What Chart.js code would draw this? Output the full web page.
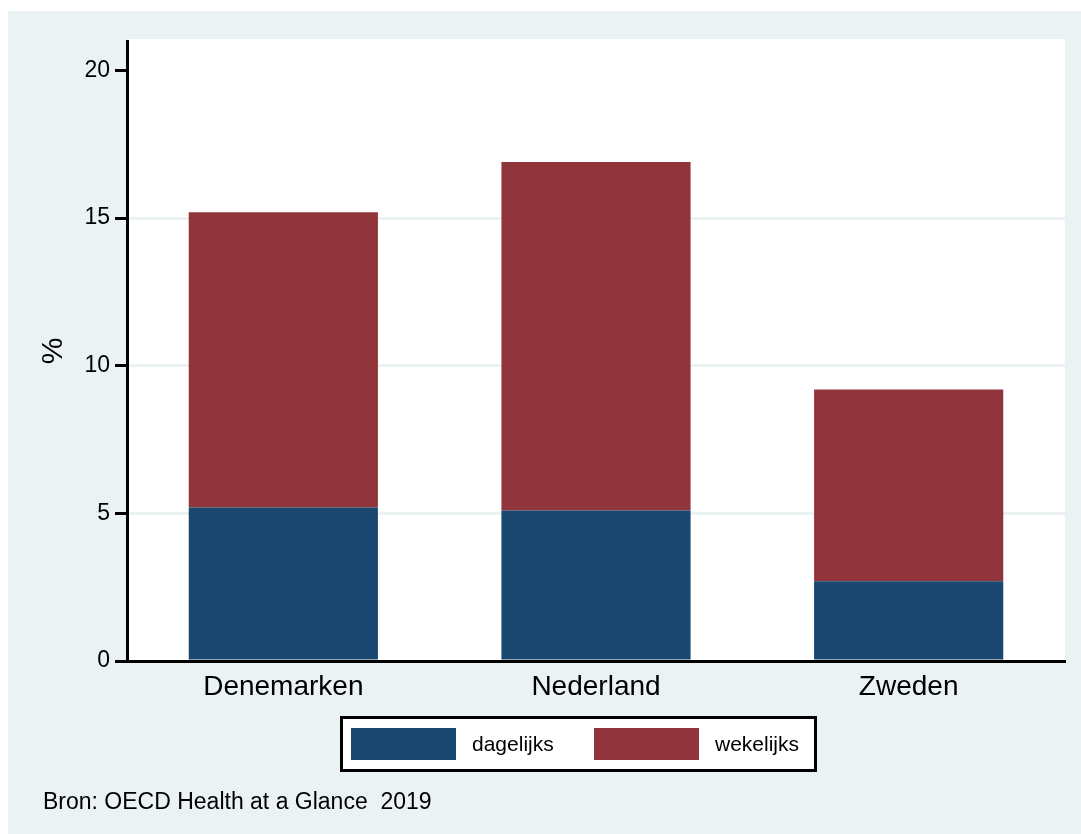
<!DOCTYPE html>
<html>
<head>
<meta charset="utf-8">
<title>Denemarken, Nederland, Zweden</title>
<script src="https://cdn.jsdelivr.net/npm/chart.js@4/dist/chart.umd.min.js"></script>
<style>
  html, body { margin: 0; padding: 0; background: #ffffff; }
  #wrap { position: relative; width: 1081px; height: 834px; }
</style>
</head>
<body>
<div id="wrap"><canvas id="chart" width="1081" height="834"></canvas></div>
<script>
(function () {
  "use strict";

  var categories = ["Denemarken", "Nederland", "Zweden"];
  var seriesNames = ["dagelijks", "wekelijks"];
  var dagelijks = [5.2, 5.1, 2.7];
  var wekelijks = [10.0, 11.8, 6.5];
  var yTicks = [0, 5, 10, 15, 20];
  var yGridTicks = [5, 10, 15];
  var sourceText = "Bron: OECD Health at a Glance  2019";

  var BLUE = "#1a476f";
  var RED = "#90353b";
  var BG = "#eaf2f3";
  var FONT = "'Liberation Sans', Arial, sans-serif";

  var stataFrame = {
    id: "stataFrame",
    beforeDraw: function (chart) {
      var ctx = chart.ctx;
      var a = chart.chartArea;
      ctx.save();
      ctx.fillStyle = BG;
      ctx.fillRect(8, 11, chart.width - 8, chart.height - 11);
      ctx.fillStyle = "#ffffff";
      ctx.fillRect(a.left, 39, a.right - a.left, a.bottom - 39);
      ctx.restore();
    },
    afterDraw: function (chart) {
      var ctx = chart.ctx;
      ctx.save();
      // legend box
      ctx.fillStyle = "#ffffff";
      ctx.fillRect(341, 717, 475, 54);
      ctx.strokeStyle = "#000000";
      ctx.lineWidth = 3;
      ctx.strokeRect(341.5, 717.5, 474, 53);
      var swatchX = [351, 594];
      var textX = [472, 715];
      ctx.font = "21px " + FONT;
      ctx.textBaseline = "middle";
      ctx.textAlign = "left";
      chart.data.datasets.forEach(function (ds, i) {
        ctx.fillStyle = ds.backgroundColor;
        ctx.fillRect(swatchX[i], 728, 105, 32);
        ctx.fillStyle = "#000000";
        ctx.fillText(ds.label, textX[i], 745);
      });
      // source note
      ctx.font = "23px " + FONT;
      ctx.textBaseline = "alphabetic";
      ctx.fillStyle = "#000000";
      ctx.fillText(sourceText, 43, 809);
      ctx.restore();
    }
  };

  new Chart(document.getElementById("chart"), {
    type: "bar",
    data: {
      labels: categories,
      datasets: [
        { label: seriesNames[0], data: dagelijks, backgroundColor: BLUE, borderWidth: 0 },
        { label: seriesNames[1], data: wekelijks, backgroundColor: RED, borderWidth: 0 }
      ]
    },
    options: {
      responsive: false,
      animation: false,
      devicePixelRatio: 1,
      layout: { padding: { top: 41, right: 16, left: 0, bottom: 0 } },
      datasets: { bar: { categoryPercentage: 1, barPercentage: 0.605 } },
      plugins: { legend: { display: false }, tooltip: { enabled: false } },
      scales: {
        x: {
          stacked: true,
          grid: { display: false, drawTicks: false },
          border: { display: true, color: "#000000", width: 3 },
          ticks: { color: "#000000", font: { family: FONT, size: 28 }, padding: 9 },
          afterFit: function (s) { s.height = 173; }
        },
        y: {
          stacked: true,
          min: 0,
          max: 21,
          afterBuildTicks: function (s) {
            s.ticks = yTicks.map(function (v) { return { value: v }; });
          },
          grid: {
            color: function (c) {
              return c.tick && yGridTicks.indexOf(c.tick.value) >= 0 ? BG : "rgba(0,0,0,0)";
            },
            lineWidth: 3,
            tickLength: 12,
            tickColor: "#000000",
            tickWidth: 3
          },
          border: { display: true, color: "#000000", width: 3 },
          ticks: { color: "#000000", font: { family: FONT, size: 23 }, padding: 5 },
          title: {
            display: true,
            text: "%",
            color: "#000000",
            font: { family: FONT, size: 30 },
            padding: { top: 36, bottom: 0 }
          },
          afterFit: function (s) { s.width = 127; }
        }
      }
    },
    plugins: [stataFrame]
  });
})();
</script>
</body>
</html>
